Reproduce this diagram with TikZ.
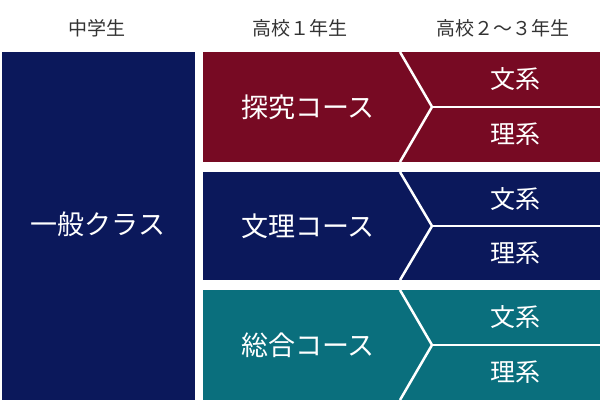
\documentclass[tikz,border=0pt]{standalone}
\usepackage{fontspec}
\newfontfamily\cjk{Noto Sans CJK JP}
\definecolor{crim}{HTML}{770A23}
\definecolor{nav}{HTML}{0B185B}
\definecolor{tea}{HTML}{0A6F7D}
\definecolor{hdr}{HTML}{333333}
\begin{document}
\begin{tikzpicture}[x=1pt,y=-1pt,
  hd/.style={text=hdr,font=\cjk\fontsize{19}{21}\selectfont},
  lb/.style={text=white,font=\cjk\fontsize{27}{29}\selectfont},
  sl/.style={text=white,font=\cjk\fontsize{25}{27}\selectfont},
  wl/.style={draw=white,line width=2.5pt}]
\useasboundingbox (0,0) rectangle (601,409);
\node[hd] (h1) at (97,28) {中学生};
\node[hd] (h2) at (300,28) {高校１年生};
\node[hd] (h3) at (503,28) {高校２〜３年生};
\fill[nav] (2,52) rectangle (195,400);
\node[lb] (g) at (98,224) {一般クラス};
\foreach \c/\t/\a/\b/\n in {crim/探究コース/52/162/a, nav/文理コース/172/280/b, tea/総合コース/290/400/c}{
  \pgfmathsetmacro\m{(\a+\b)/2}
  \fill[\c] (203,\a) rectangle (600,\b);
  \draw[wl] (400,\a) -- (432,\m) -- (400,\b);
  \draw[wl] (432,\m) -- (600,\m);
  \node[lb] (\n) at (308,\m) {\t};
  \node[sl] (\n1) at (515,{(\a+\m)/2}) {文系};
  \node[sl] (\n2) at (515,{(\m+\b)/2}) {理系};
}
\end{tikzpicture}
\end{document}
